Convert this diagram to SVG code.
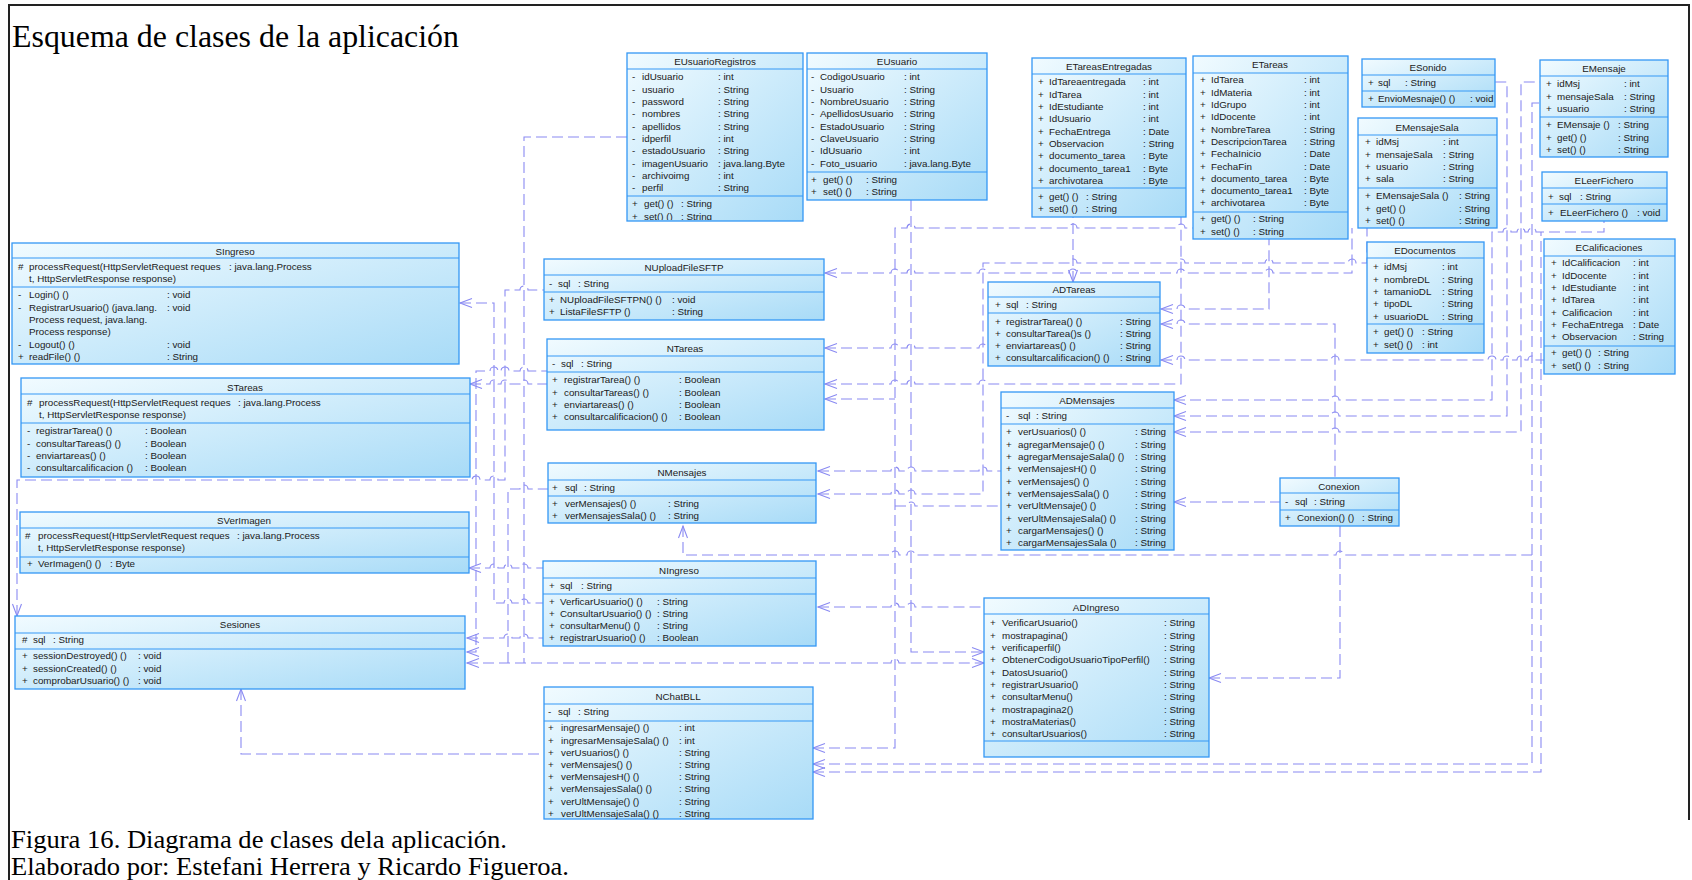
<svg xmlns="http://www.w3.org/2000/svg" width="1692" height="880" viewBox="0 0 1692 880">
<defs>
  <linearGradient id="fillBox" x1="0" y1="0" x2="1" y2="1">
    <stop offset="0" stop-color="#f1fbff"/>
    <stop offset="1" stop-color="#a8dbf7"/>
  </linearGradient>
  <marker id="open" viewBox="-13 -6 15 12" refX="0" refY="0" markerWidth="15" markerHeight="12" markerUnits="userSpaceOnUse" orient="auto-start-reverse">
    <path d="M-12,-4.5 L0,0 L-12,4.5" fill="none" stroke="#8a8af2" stroke-width="1.1"/>
  </marker>
  <clipPath id="clipReg"><rect x="627" y="53" width="176" height="167"/></clipPath>
</defs>
<style>
  .box { fill: url(#fillBox); stroke: #3497f5; stroke-width: 1.3; }
  .sep { stroke: #3497f5; stroke-width: 1.2; }
  text { font-family: "Liberation Sans", Arial, sans-serif; font-size: 9.8px; fill: #1a1a1a; }
  .c { text-anchor: middle; }
  text.title { font-family: "Liberation Serif", "Times New Roman", serif; font-size: 31.5px; fill: #000; }
  text.cap { font-family: "Liberation Serif", "Times New Roman", serif; font-size: 25px; fill: #000; }
  .cn { fill: none; stroke: #8a8af2; stroke-width: 1.1; stroke-dasharray: 11 5; }
  .a1 { marker-start: url(#open); }
  .a2 { marker-end: url(#open); }
  .frame { fill: none; stroke: #222; stroke-width: 2; }
</style>

<rect width="1692" height="880" fill="#ffffff"/>
<path class="frame" d="M9,880 V5 H1689 V820"/>

<text class="title" x="12" y="47" textLength="447" lengthAdjust="spacingAndGlyphs">Esquema de clases de la aplicación</text>
<text class="cap" x="11" y="848" textLength="496" lengthAdjust="spacingAndGlyphs">Figura 16. Diagrama de clases dela aplicación.</text>
<text class="cap" x="11" y="875" textLength="558" lengthAdjust="spacingAndGlyphs">Elaborado por: Estefani Herrera y Ricardo Figueroa.</text>

<!-- dependency connectors -->
<g id="connectors">
  <path class="cn" d="M627,137 H524 V663"/>
  <path class="cn a1 a2" d="M467,663 H891 a4 4 0 0 1 8 0 H984"/>
  <path class="cn a1" d="M17,616 V480 H472 a4 4 0 0 1 8 0 H490 a4 4 0 0 1 8 0 H505 V290 H520 a4 4 0 0 1 8 0 H544"/>
  <path class="cn a1" d="M460,303 H494 V603 H504 a4 4 0 0 1 8 0 H520 a4 4 0 0 1 8 0 H543"/>
  <path class="cn a1" d="M467,652 H476 V371 H490 a4 4 0 0 1 8 0 H501 a4 4 0 0 1 8 0 H520 a4 4 0 0 1 8 0 H547"/>
  <path class="cn a1" d="M470,384 H490 a4 4 0 0 1 8 0 H501 a4 4 0 0 1 8 0 H520 a4 4 0 0 1 8 0 H547"/>
  <path class="cn" d="M508,663 V489 H520 a4 4 0 0 1 8 0 H548"/>
  <path class="cn a1" d="M469,568 H490 a4 4 0 0 1 8 0 H504 a4 4 0 0 1 8 0 H520 a4 4 0 0 1 8 0 H543"/>
  <path class="cn a1" d="M467,638 H504 a4 4 0 0 1 8 0 H520 a4 4 0 0 1 8 0 H543"/>
  <path class="cn a2" d="M911,200 V652 H984"/>
  <path class="cn a1" d="M241,689 V754 H544"/>
  <path class="cn a1" d="M813,748 H895 V228 H907 a4 4 0 0 1 8 0 H1069 a4 4 0 0 1 8 0 H1177 a4 4 0 0 1 8 0 H1193"/>
  <path class="cn a1" d="M825,399 H895"/>
  <path class="cn" d="M895,506 H907 a4 4 0 0 1 8 0 H1001"/>
  <path class="cn a1" d="M825,273 H891 a4 4 0 0 1 8 0 H907 a4 4 0 0 1 8 0 H979 a4 4 0 0 1 8 0 H1069 a4 4 0 0 1 8 0 H1177 a4 4 0 0 1 8 0 H1265 a4 4 0 0 1 8 0 H1352 V228"/>
  <path class="cn a1" d="M818,494 H891 a4 4 0 0 1 8 0 H907 a4 4 0 0 1 8 0 H983 V263 H1069 a4 4 0 0 1 8 0 H1177 a4 4 0 0 1 8 0 H1265 a4 4 0 0 1 8 0 H1348 a4 4 0 0 1 8 0 H1367 V228"/>
  <path class="cn a1" d="M825,348 H891 a4 4 0 0 1 8 0 H907 a4 4 0 0 1 8 0 H979 a4 4 0 0 1 8 0 H988"/>
  <path class="cn a1" d="M825,384 H891 a4 4 0 0 1 8 0 H907 a4 4 0 0 1 8 0 H979 a4 4 0 0 1 8 0 H1181 V217"/>
  <path class="cn a1" d="M1073,282 V217"/>
  <path class="cn a1" d="M1161,309 H1177 a4 4 0 0 1 8 0 H1269 V239"/>
  <path class="cn a1" d="M1161,324 H1177 a4 4 0 0 1 8 0 H1335 V478"/>
  <path class="cn a1" d="M1161,360 H1177 a4 4 0 0 1 8 0 H1331 a4 4 0 0 1 8 0 H1488 a4 4 0 0 1 8 0 H1503 a4 4 0 0 1 8 0 H1517 a4 4 0 0 1 8 0 H1528 a4 4 0 0 1 8 0 H1544"/>
  <path class="cn a1" d="M1174,400 H1331 a4 4 0 0 1 8 0 H1492 V232 H1503 a4 4 0 0 1 8 0 H1517 a4 4 0 0 1 8 0 H1528 a4 4 0 0 1 8 0 H1604 V221"/>
  <path class="cn a1" d="M813,772 H1541 V232"/>
  <path class="cn a1" d="M1174,416 H1331 a4 4 0 0 1 8 0 H1507 V82 H1495"/>
  <path class="cn a1" d="M1174,432 H1331 a4 4 0 0 1 8 0 H1521 V82 H1540"/>
  <path class="cn a1" d="M813,764 H1532 V103 H1540"/>
  <path class="cn a1" d="M683,526 V555 H891 a4 4 0 0 1 8 0 H907 a4 4 0 0 1 8 0 H1336 a4 4 0 0 1 8 0 H1532"/>
  <path class="cn a1" d="M818,471 H891 a4 4 0 0 1 8 0 H907 a4 4 0 0 1 8 0 H979 a4 4 0 0 1 8 0 H1001"/>
  <path class="cn a1" d="M818,607 H891 a4 4 0 0 1 8 0 H907 a4 4 0 0 1 8 0 H984"/>
  <path class="cn a1" d="M1174,502 H1280"/>
  <path class="cn a1" d="M1209,678 H1340 V526"/>
</g>

<g id="EUsuarioRegistros">
  <rect class="box" x="627" y="53" width="176" height="168"/>
  <line class="sep" x1="627" y1="69" x2="803" y2="69"/>
  <line class="sep" x1="627" y1="196" x2="803" y2="196"/>
  <text class="c" x="715" y="64.5">EUsuarioRegistros</text>
  <g clip-path="url(#clipReg)">
    <text x="632" y="80.4">-</text><text x="642" y="80.4">idUsuario</text><text x="718" y="80.4">: int</text>
    <text x="632" y="92.7">-</text><text x="642" y="92.7">usuario</text><text x="718" y="92.7">: String</text>
    <text x="632" y="105">-</text><text x="642" y="105">password</text><text x="718" y="105">: String</text>
    <text x="632" y="117.3">-</text><text x="642" y="117.3">nombres</text><text x="718" y="117.3">: String</text>
    <text x="632" y="129.6">-</text><text x="642" y="129.6">apellidos</text><text x="718" y="129.6">: String</text>
    <text x="632" y="141.9">-</text><text x="642" y="141.9">idperfil</text><text x="718" y="141.9">: int</text>
    <text x="632" y="154.2">-</text><text x="642" y="154.2">estadoUsuario</text><text x="718" y="154.2">: String</text>
    <text x="632" y="166.5">-</text><text x="642" y="166.5">imagenUsuario</text><text x="718" y="166.5">: java.lang.Byte</text>
    <text x="632" y="178.8">-</text><text x="642" y="178.8">archivoimg</text><text x="718" y="178.8">: int</text>
    <text x="632" y="191.1">-</text><text x="642" y="191.1">perfil</text><text x="718" y="191.1">: String</text>
    <text x="632" y="207.4">+</text><text x="644" y="207.4">get() ()</text><text x="681" y="207.4">: String</text>
    <text x="632" y="219.7">+</text><text x="644" y="219.7">set() ()</text><text x="681" y="219.7">: String</text>
  </g>
</g>

<g id="EUsuario">
  <rect class="box" x="807" y="53" width="180" height="147"/>
  <line class="sep" x1="807" y1="69" x2="987" y2="69"/>
  <line class="sep" x1="807" y1="172" x2="987" y2="172"/>
  <text class="c" x="897" y="64.5">EUsuario</text>
  <text x="811" y="80.4">-</text><text x="820" y="80.4">CodigoUsuario</text><text x="904" y="80.4">: int</text>
  <text x="811" y="92.7">-</text><text x="820" y="92.7">Usuario</text><text x="904" y="92.7">: String</text>
  <text x="811" y="105">-</text><text x="820" y="105">NombreUsuario</text><text x="904" y="105">: String</text>
  <text x="811" y="117.3">-</text><text x="820" y="117.3">ApellidosUsuario</text><text x="904" y="117.3">: String</text>
  <text x="811" y="129.6">-</text><text x="820" y="129.6">EstadoUsuario</text><text x="904" y="129.6">: String</text>
  <text x="811" y="141.9">-</text><text x="820" y="141.9">ClaveUsuario</text><text x="904" y="141.9">: String</text>
  <text x="811" y="154.2">-</text><text x="820" y="154.2">IdUsuario</text><text x="904" y="154.2">: int</text>
  <text x="811" y="166.5">-</text><text x="820" y="166.5">Foto_usuario</text><text x="904" y="166.5">: java.lang.Byte</text>
  <text x="811" y="183.4">+</text><text x="823" y="183.4">get() ()</text><text x="866" y="183.4">: String</text>
  <text x="811" y="195.4">+</text><text x="823" y="195.4">set() ()</text><text x="866" y="195.4">: String</text>
</g>

<g id="ETareasEntregadas">
  <rect class="box" x="1032" y="58" width="154" height="159"/>
  <line class="sep" x1="1032" y1="74" x2="1186" y2="74"/>
  <line class="sep" x1="1032" y1="188" x2="1186" y2="188"/>
  <text class="c" x="1109" y="69.5">ETareasEntregadas</text>
  <text x="1038" y="85.4">+</text><text x="1049" y="85.4">IdTareaentregada</text><text x="1143" y="85.4">: int</text>
  <text x="1038" y="97.7">+</text><text x="1049" y="97.7">IdTarea</text><text x="1143" y="97.7">: int</text>
  <text x="1038" y="110">+</text><text x="1049" y="110">IdEstudiante</text><text x="1143" y="110">: int</text>
  <text x="1038" y="122.3">+</text><text x="1049" y="122.3">IdUsuario</text><text x="1143" y="122.3">: int</text>
  <text x="1038" y="134.6">+</text><text x="1049" y="134.6">FechaEntrega</text><text x="1143" y="134.6">: Date</text>
  <text x="1038" y="146.9">+</text><text x="1049" y="146.9">Observacion</text><text x="1143" y="146.9">: String</text>
  <text x="1038" y="159.2">+</text><text x="1049" y="159.2">documento_tarea</text><text x="1143" y="159.2">: Byte</text>
  <text x="1038" y="171.5">+</text><text x="1049" y="171.5">documento_tarea1</text><text x="1143" y="171.5">: Byte</text>
  <text x="1038" y="183.8">+</text><text x="1049" y="183.8">archivotarea</text><text x="1143" y="183.8">: Byte</text>
  <text x="1038" y="200.4">+</text><text x="1049" y="200.4">get() ()</text><text x="1086" y="200.4">: String</text>
  <text x="1038" y="212.4">+</text><text x="1049" y="212.4">set() ()</text><text x="1086" y="212.4">: String</text>
</g>

<g id="ETareas">
  <rect class="box" x="1193" y="56" width="155" height="183"/>
  <line class="sep" x1="1193" y1="73" x2="1348" y2="73"/>
  <line class="sep" x1="1193" y1="212" x2="1348" y2="212"/>
  <text class="c" x="1270" y="67.5">ETareas</text>
  <text x="1200" y="83.4">+</text><text x="1211" y="83.4">IdTarea</text><text x="1304" y="83.4">: int</text>
  <text x="1200" y="95.7">+</text><text x="1211" y="95.7">IdMateria</text><text x="1304" y="95.7">: int</text>
  <text x="1200" y="108">+</text><text x="1211" y="108">IdGrupo</text><text x="1304" y="108">: int</text>
  <text x="1200" y="120.3">+</text><text x="1211" y="120.3">IdDocente</text><text x="1304" y="120.3">: int</text>
  <text x="1200" y="132.6">+</text><text x="1211" y="132.6">NombreTarea</text><text x="1304" y="132.6">: String</text>
  <text x="1200" y="144.9">+</text><text x="1211" y="144.9">DescripcionTarea</text><text x="1304" y="144.9">: String</text>
  <text x="1200" y="157.2">+</text><text x="1211" y="157.2">FechaInicio</text><text x="1304" y="157.2">: Date</text>
  <text x="1200" y="169.5">+</text><text x="1211" y="169.5">FechaFin</text><text x="1304" y="169.5">: Date</text>
  <text x="1200" y="181.8">+</text><text x="1211" y="181.8">documento_tarea</text><text x="1304" y="181.8">: Byte</text>
  <text x="1200" y="194.1">+</text><text x="1211" y="194.1">documento_tarea1</text><text x="1304" y="194.1">: Byte</text>
  <text x="1200" y="206.4">+</text><text x="1211" y="206.4">archivotarea</text><text x="1304" y="206.4">: Byte</text>
  <text x="1200" y="222.4">+</text><text x="1211" y="222.4">get() ()</text><text x="1253" y="222.4">: String</text>
  <text x="1200" y="234.9">+</text><text x="1211" y="234.9">set() ()</text><text x="1253" y="234.9">: String</text>
</g>

<g id="ESonido">
  <rect class="box" x="1362" y="59" width="133" height="48"/>
  <line class="sep" x1="1362" y1="75" x2="1495" y2="75"/>
  <line class="sep" x1="1362" y1="91" x2="1495" y2="91"/>
  <text class="c" x="1428" y="70.5">ESonido</text>
  <text x="1368" y="86.4">+</text><text x="1378" y="86.4">sql</text><text x="1405" y="86.4">: String</text>
  <text x="1368" y="102.4">+</text><text x="1378" y="102.4">EnvioMesnaje() ()</text><text x="1470" y="102.4">: void</text>
</g>

<g id="EMensaje">
  <rect class="box" x="1540" y="60" width="128" height="97"/>
  <line class="sep" x1="1540" y1="76" x2="1668" y2="76"/>
  <line class="sep" x1="1540" y1="117" x2="1668" y2="117"/>
  <text class="c" x="1604" y="71.5">EMensaje</text>
  <text x="1546" y="87.4">+</text><text x="1557" y="87.4">idMsj</text><text x="1624" y="87.4">: int</text>
  <text x="1546" y="99.7">+</text><text x="1557" y="99.7">mensajeSala</text><text x="1624" y="99.7">: String</text>
  <text x="1546" y="112">+</text><text x="1557" y="112">usuario</text><text x="1624" y="112">: String</text>
  <text x="1546" y="128.4">+</text><text x="1557" y="128.4">EMensaje ()</text><text x="1618" y="128.4">: String</text>
  <text x="1546" y="140.7">+</text><text x="1557" y="140.7">get() ()</text><text x="1618" y="140.7">: String</text>
  <text x="1546" y="153">+</text><text x="1557" y="153">set() ()</text><text x="1618" y="153">: String</text>
</g>

<g id="EMensajeSala">
  <rect class="box" x="1358" y="118" width="139" height="110"/>
  <line class="sep" x1="1358" y1="135" x2="1497" y2="135"/>
  <line class="sep" x1="1358" y1="188" x2="1497" y2="188"/>
  <text class="c" x="1427" y="130.5">EMensajeSala</text>
  <text x="1365" y="145.4">+</text><text x="1376" y="145.4">idMsj</text><text x="1443" y="145.4">: int</text>
  <text x="1365" y="157.7">+</text><text x="1376" y="157.7">mensajeSala</text><text x="1443" y="157.7">: String</text>
  <text x="1365" y="170">+</text><text x="1376" y="170">usuario</text><text x="1443" y="170">: String</text>
  <text x="1365" y="182.3">+</text><text x="1376" y="182.3">sala</text><text x="1443" y="182.3">: String</text>
  <text x="1365" y="199.4">+</text><text x="1376" y="199.4">EMensajeSala ()</text><text x="1459" y="199.4">: String</text>
  <text x="1365" y="211.7">+</text><text x="1376" y="211.7">get() ()</text><text x="1459" y="211.7">: String</text>
  <text x="1365" y="224">+</text><text x="1376" y="224">set() ()</text><text x="1459" y="224">: String</text>
</g>

<g id="ELeerFichero">
  <rect class="box" x="1542" y="172" width="125" height="49"/>
  <line class="sep" x1="1542" y1="188" x2="1667" y2="188"/>
  <line class="sep" x1="1542" y1="204" x2="1667" y2="204"/>
  <text class="c" x="1604" y="183.5">ELeerFichero</text>
  <text x="1548" y="200.4">+</text><text x="1559" y="200.4">sql</text><text x="1580" y="200.4">: String</text>
  <text x="1548" y="216.4">+</text><text x="1560" y="216.4">ELeerFichero ()</text><text x="1637" y="216.4">: void</text>
</g>

<g id="EDocumentos">
  <rect class="box" x="1367" y="242" width="117" height="111"/>
  <line class="sep" x1="1367" y1="258" x2="1484" y2="258"/>
  <line class="sep" x1="1367" y1="324" x2="1484" y2="324"/>
  <text class="c" x="1425" y="253.5">EDocumentos</text>
  <text x="1373" y="270.4">+</text><text x="1384" y="270.4">idMsj</text><text x="1442" y="270.4">: int</text>
  <text x="1373" y="282.7">+</text><text x="1384" y="282.7">nombreDL</text><text x="1442" y="282.7">: String</text>
  <text x="1373" y="295">+</text><text x="1384" y="295">tamanioDL</text><text x="1442" y="295">: String</text>
  <text x="1373" y="307.3">+</text><text x="1384" y="307.3">tipoDL</text><text x="1442" y="307.3">: String</text>
  <text x="1373" y="319.6">+</text><text x="1384" y="319.6">usuarioDL</text><text x="1442" y="319.6">: String</text>
  <text x="1373" y="335.4">+</text><text x="1384" y="335.4">get() ()</text><text x="1422" y="335.4">: String</text>
  <text x="1373" y="347.7">+</text><text x="1384" y="347.7">set() ()</text><text x="1422" y="347.7">: int</text>
</g>

<g id="ECalificaciones">
  <rect class="box" x="1544" y="239" width="131" height="135"/>
  <line class="sep" x1="1544" y1="256" x2="1675" y2="256"/>
  <line class="sep" x1="1544" y1="346" x2="1675" y2="346"/>
  <text class="c" x="1609" y="250.5">ECalificaciones</text>
  <text x="1551" y="266.4">+</text><text x="1562" y="266.4">IdCalificacion</text><text x="1633" y="266.4">: int</text>
  <text x="1551" y="278.7">+</text><text x="1562" y="278.7">IdDocente</text><text x="1633" y="278.7">: int</text>
  <text x="1551" y="291">+</text><text x="1562" y="291">IdEstudiante</text><text x="1633" y="291">: int</text>
  <text x="1551" y="303.3">+</text><text x="1562" y="303.3">IdTarea</text><text x="1633" y="303.3">: int</text>
  <text x="1551" y="315.6">+</text><text x="1562" y="315.6">Calificacion</text><text x="1633" y="315.6">: int</text>
  <text x="1551" y="327.9">+</text><text x="1562" y="327.9">FechaEntrega</text><text x="1633" y="327.9">: Date</text>
  <text x="1551" y="340.2">+</text><text x="1562" y="340.2">Observacion</text><text x="1633" y="340.2">: String</text>
  <text x="1551" y="356.4">+</text><text x="1562" y="356.4">get() ()</text><text x="1598" y="356.4">: String</text>
  <text x="1551" y="368.7">+</text><text x="1562" y="368.7">set() ()</text><text x="1598" y="368.7">: String</text>
</g>

<g id="SIngreso">
  <rect class="box" x="12" y="243" width="447" height="121"/>
  <line class="sep" x1="12" y1="258" x2="459" y2="258"/>
  <line class="sep" x1="12" y1="287" x2="459" y2="287"/>
  <text class="c" x="235" y="254.5">SIngreso</text>
  <text x="18" y="270.4">#</text><text x="29" y="270.4">processRequest(HttpServletRequest reques</text><text x="229" y="270.4">: java.lang.Process</text>
  <text x="29" y="282.4">t, HttpServletResponse response)</text>
  <text x="18" y="298.4">-</text><text x="29" y="298.4">Login() ()</text><text x="167" y="298.4">: void</text>
  <text x="18" y="310.7">-</text><text x="29" y="310.7">RegistrarUsuario() (java.lang.</text><text x="167" y="310.7">: void</text>
  <text x="29" y="323">Process request, java.lang.</text>
  <text x="29" y="335.3">Process response)</text>
  <text x="18" y="347.6">-</text><text x="29" y="347.6">Logout() ()</text><text x="167" y="347.6">: void</text>
  <text x="18" y="359.9">+</text><text x="29" y="359.9">readFile() ()</text><text x="167" y="359.9">: String</text>
</g>

<g id="STareas">
  <rect class="box" x="21" y="378" width="449" height="99"/>
  <line class="sep" x1="21" y1="394" x2="470" y2="394"/>
  <line class="sep" x1="21" y1="423" x2="470" y2="423"/>
  <text class="c" x="245" y="390.5">STareas</text>
  <text x="27" y="406.4">#</text><text x="39" y="406.4">processRequest(HttpServletRequest reques</text><text x="238" y="406.4">: java.lang.Process</text>
  <text x="39" y="418.4">t, HttpServletResponse response)</text>
  <text x="27" y="434.4">-</text><text x="36" y="434.4">registrarTarea() ()</text><text x="145" y="434.4">: Boolean</text>
  <text x="27" y="446.7">-</text><text x="36" y="446.7">consultarTareas() ()</text><text x="145" y="446.7">: Boolean</text>
  <text x="27" y="459">-</text><text x="36" y="459">enviartareas() ()</text><text x="145" y="459">: Boolean</text>
  <text x="27" y="471.3">-</text><text x="36" y="471.3">consultarcalificacion ()</text><text x="145" y="471.3">: Boolean</text>
</g>

<g id="SVerImagen">
  <rect class="box" x="20" y="512" width="449" height="61"/>
  <line class="sep" x1="20" y1="528" x2="469" y2="528"/>
  <line class="sep" x1="20" y1="557" x2="469" y2="557"/>
  <text class="c" x="244" y="523.5">SVerImagen</text>
  <text x="25" y="539.4">#</text><text x="38" y="539.4">processRequest(HttpServletRequest reques</text><text x="237" y="539.4">: java.lang.Process</text>
  <text x="38" y="551.4">t, HttpServletResponse response)</text>
  <text x="27" y="567.4">+</text><text x="38" y="567.4">VerImagen() ()</text><text x="110" y="567.4">: Byte</text>
</g>

<g id="Sesiones">
  <rect class="box" x="15" y="616" width="450" height="73"/>
  <line class="sep" x1="15" y1="633" x2="465" y2="633"/>
  <line class="sep" x1="15" y1="649" x2="465" y2="649"/>
  <text class="c" x="240" y="627.5">Sesiones</text>
  <text x="22" y="643.4">#</text><text x="33" y="643.4">sql</text><text x="53" y="643.4">: String</text>
  <text x="22" y="659.4">+</text><text x="33" y="659.4">sessionDestroyed() ()</text><text x="138" y="659.4">: void</text>
  <text x="22" y="671.7">+</text><text x="33" y="671.7">sessionCreated() ()</text><text x="138" y="671.7">: void</text>
  <text x="22" y="684">+</text><text x="33" y="684">comprobarUsuario() ()</text><text x="138" y="684">: void</text>
</g>

<g id="NUploadFileSFTP">
  <rect class="box" x="544" y="259" width="280" height="61"/>
  <line class="sep" x1="544" y1="275" x2="824" y2="275"/>
  <line class="sep" x1="544" y1="292" x2="824" y2="292"/>
  <text class="c" x="684" y="270.5">NUploadFileSFTP</text>
  <text x="549" y="287.4">-</text><text x="558" y="287.4">sql</text><text x="578" y="287.4">: String</text>
  <text x="549" y="303.4">+</text><text x="560" y="303.4">NUploadFileSFTPN() ()</text><text x="672" y="303.4">: void</text>
  <text x="549" y="315.4">+</text><text x="560" y="315.4">ListaFileSFTP ()</text><text x="672" y="315.4">: String</text>
</g>

<g id="NTareas">
  <rect class="box" x="547" y="339" width="277" height="91"/>
  <line class="sep" x1="547" y1="356" x2="824" y2="356"/>
  <line class="sep" x1="547" y1="372" x2="824" y2="372"/>
  <text class="c" x="685" y="351.5">NTareas</text>
  <text x="552" y="367.4">-</text><text x="561" y="367.4">sql</text><text x="581" y="367.4">: String</text>
  <text x="552" y="383.4">+</text><text x="564" y="383.4">registrarTarea() ()</text><text x="679" y="383.4">: Boolean</text>
  <text x="552" y="395.7">+</text><text x="564" y="395.7">consultarTareas() ()</text><text x="679" y="395.7">: Boolean</text>
  <text x="552" y="408">+</text><text x="564" y="408">enviartareas() ()</text><text x="679" y="408">: Boolean</text>
  <text x="552" y="420.3">+</text><text x="564" y="420.3">consultarcalificacion() ()</text><text x="679" y="420.3">: Boolean</text>
</g>

<g id="NMensajes">
  <rect class="box" x="548" y="463" width="268" height="60"/>
  <line class="sep" x1="548" y1="480" x2="816" y2="480"/>
  <line class="sep" x1="548" y1="496" x2="816" y2="496"/>
  <text class="c" x="682" y="475.5">NMensajes</text>
  <text x="552" y="491.4">+</text><text x="565" y="491.4">sql</text><text x="584" y="491.4">: String</text>
  <text x="552" y="507.4">+</text><text x="565" y="507.4">verMensajes() ()</text><text x="668" y="507.4">: String</text>
  <text x="552" y="519.4">+</text><text x="565" y="519.4">verMensajesSala() ()</text><text x="668" y="519.4">: String</text>
</g>

<g id="NIngreso">
  <rect class="box" x="543" y="561" width="273" height="85"/>
  <line class="sep" x1="543" y1="578" x2="816" y2="578"/>
  <line class="sep" x1="543" y1="594" x2="816" y2="594"/>
  <text class="c" x="679" y="573.5">NIngreso</text>
  <text x="549" y="589.4">+</text><text x="560" y="589.4">sql</text><text x="581" y="589.4">: String</text>
  <text x="549" y="605.4">+</text><text x="560" y="605.4">VerficarUsuario() ()</text><text x="657" y="605.4">: String</text>
  <text x="549" y="617.1">+</text><text x="560" y="617.1">ConsultarUsuario() ()</text><text x="657" y="617.1">: String</text>
  <text x="549" y="628.8">+</text><text x="560" y="628.8">consultarMenu() ()</text><text x="657" y="628.8">: String</text>
  <text x="549" y="640.5">+</text><text x="560" y="640.5">registrarUsuario() ()</text><text x="657" y="640.5">: Boolean</text>
</g>

<g id="NChatBLL">
  <rect class="box" x="544" y="687" width="269" height="132"/>
  <line class="sep" x1="544" y1="704" x2="813" y2="704"/>
  <line class="sep" x1="544" y1="721" x2="813" y2="721"/>
  <text class="c" x="678" y="699.5">NChatBLL</text>
  <text x="548" y="715.4">-</text><text x="558" y="715.4">sql</text><text x="578" y="715.4">: String</text>
  <text x="548" y="731.4">+</text><text x="561" y="731.4">ingresarMensaje() ()</text><text x="679" y="731.4">: int</text>
  <text x="548" y="743.6">+</text><text x="561" y="743.6">ingresarMensajeSala() ()</text><text x="679" y="743.6">: int</text>
  <text x="548" y="755.8">+</text><text x="561" y="755.8">verUsuarios() ()</text><text x="679" y="755.8">: String</text>
  <text x="548" y="768">+</text><text x="561" y="768">verMensajes() ()</text><text x="679" y="768">: String</text>
  <text x="548" y="780.2">+</text><text x="561" y="780.2">verMensajesH() ()</text><text x="679" y="780.2">: String</text>
  <text x="548" y="792.4">+</text><text x="561" y="792.4">verMensajesSala() ()</text><text x="679" y="792.4">: String</text>
  <text x="548" y="804.6">+</text><text x="561" y="804.6">verUltMensaje() ()</text><text x="679" y="804.6">: String</text>
  <text x="548" y="816.8">+</text><text x="561" y="816.8">verUltMensajeSala() ()</text><text x="679" y="816.8">: String</text>
</g>

<g id="ADTareas">
  <rect class="box" x="988" y="282" width="172" height="84"/>
  <line class="sep" x1="988" y1="297" x2="1160" y2="297"/>
  <line class="sep" x1="988" y1="313" x2="1160" y2="313"/>
  <text class="c" x="1074" y="292.5">ADTareas</text>
  <text x="995" y="308.4">+</text><text x="1006" y="308.4">sql</text><text x="1026" y="308.4">: String</text>
  <text x="995" y="325.4">+</text><text x="1006" y="325.4">registrarTarea() ()</text><text x="1120" y="325.4">: String</text>
  <text x="995" y="337.4">+</text><text x="1006" y="337.4">consultarTarea()s ()</text><text x="1120" y="337.4">: String</text>
  <text x="995" y="349.4">+</text><text x="1006" y="349.4">enviartareas() ()</text><text x="1120" y="349.4">: String</text>
  <text x="995" y="361.4">+</text><text x="1006" y="361.4">consultarcalificacion() ()</text><text x="1120" y="361.4">: String</text>
</g>

<g id="ADMensajes">
  <rect class="box" x="1001" y="392" width="173" height="158"/>
  <line class="sep" x1="1001" y1="408" x2="1174" y2="408"/>
  <line class="sep" x1="1001" y1="424" x2="1174" y2="424"/>
  <text class="c" x="1087" y="403.5">ADMensajes</text>
  <text x="1006" y="419.4">-</text><text x="1018" y="419.4">sql</text><text x="1036" y="419.4">: String</text>
  <text x="1006" y="435.4">+</text><text x="1018" y="435.4">verUsuarios() ()</text><text x="1135" y="435.4">: String</text>
  <text x="1006" y="447.7">+</text><text x="1018" y="447.7">agregarMensaje() ()</text><text x="1135" y="447.7">: String</text>
  <text x="1006" y="460">+</text><text x="1018" y="460">agregarMensajeSala() ()</text><text x="1135" y="460">: String</text>
  <text x="1006" y="472.3">+</text><text x="1018" y="472.3">verMensajesH() ()</text><text x="1135" y="472.3">: String</text>
  <text x="1006" y="484.6">+</text><text x="1018" y="484.6">verMensajes() ()</text><text x="1135" y="484.6">: String</text>
  <text x="1006" y="496.9">+</text><text x="1018" y="496.9">verMensajesSala() ()</text><text x="1135" y="496.9">: String</text>
  <text x="1006" y="509.2">+</text><text x="1018" y="509.2">verUltMensaje() ()</text><text x="1135" y="509.2">: String</text>
  <text x="1006" y="521.5">+</text><text x="1018" y="521.5">verUltMensajeSala() ()</text><text x="1135" y="521.5">: String</text>
  <text x="1006" y="533.8">+</text><text x="1018" y="533.8">cargarMensajes() ()</text><text x="1135" y="533.8">: String</text>
  <text x="1006" y="546.1">+</text><text x="1018" y="546.1">cargarMensajesSala ()</text><text x="1135" y="546.1">: String</text>
</g>

<g id="Conexion">
  <rect class="box" x="1280" y="478" width="119" height="48"/>
  <line class="sep" x1="1280" y1="493" x2="1399" y2="493"/>
  <line class="sep" x1="1280" y1="510" x2="1399" y2="510"/>
  <text class="c" x="1339" y="489.5">Conexion</text>
  <text x="1285" y="505.4">-</text><text x="1295" y="505.4">sql</text><text x="1314" y="505.4">: String</text>
  <text x="1285" y="521.4">+</text><text x="1297" y="521.4">Conexion() ()</text><text x="1362" y="521.4">: String</text>
</g>

<g id="ADIngreso">
  <rect class="box" x="984" y="598" width="225" height="159"/>
  <line class="sep" x1="984" y1="614" x2="1209" y2="614"/>
  <line class="sep" x1="984" y1="741" x2="1209" y2="741"/>
  <text class="c" x="1096" y="610.5">ADIngreso</text>
  <text x="990" y="626.4">+</text><text x="1002" y="626.4">VerificarUsuario()</text><text x="1164" y="626.4">: String</text>
  <text x="990" y="638.7">+</text><text x="1002" y="638.7">mostrapagina()</text><text x="1164" y="638.7">: String</text>
  <text x="990" y="651">+</text><text x="1002" y="651">verificaperfil()</text><text x="1164" y="651">: String</text>
  <text x="990" y="663.3">+</text><text x="1002" y="663.3">ObtenerCodigoUsuarioTipoPerfil()</text><text x="1164" y="663.3">: String</text>
  <text x="990" y="675.6">+</text><text x="1002" y="675.6">DatosUsuario()</text><text x="1164" y="675.6">: String</text>
  <text x="990" y="687.9">+</text><text x="1002" y="687.9">registrarUsuario()</text><text x="1164" y="687.9">: String</text>
  <text x="990" y="700.2">+</text><text x="1002" y="700.2">consultarMenu()</text><text x="1164" y="700.2">: String</text>
  <text x="990" y="712.5">+</text><text x="1002" y="712.5">mostrapagina2()</text><text x="1164" y="712.5">: String</text>
  <text x="990" y="724.8">+</text><text x="1002" y="724.8">mostraMaterias()</text><text x="1164" y="724.8">: String</text>
  <text x="990" y="737.1">+</text><text x="1002" y="737.1">consultarUsuarios()</text><text x="1164" y="737.1">: String</text>
</g>
</svg>
